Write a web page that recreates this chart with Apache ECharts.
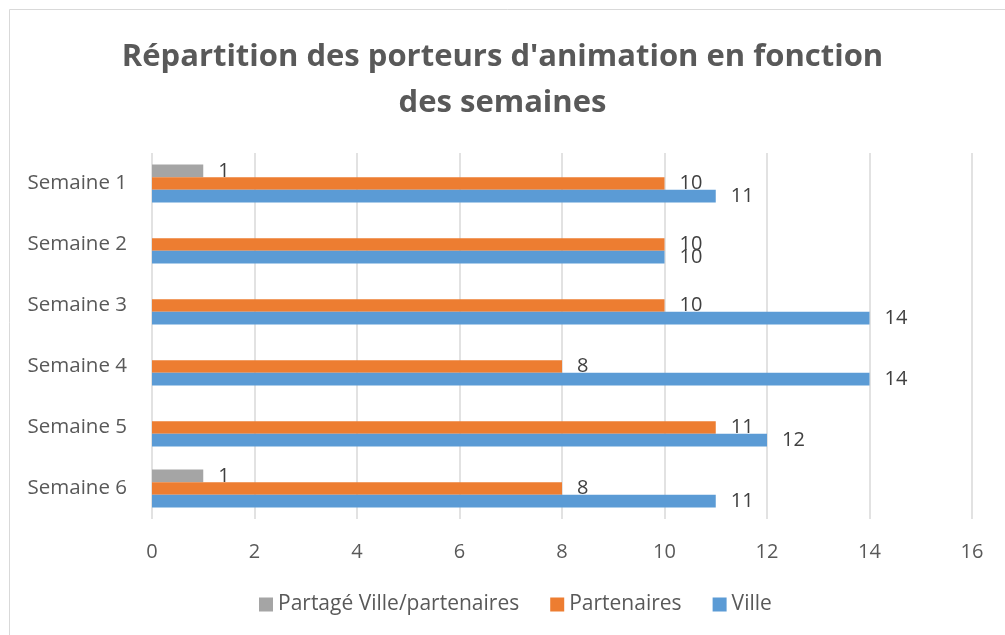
<!DOCTYPE html>
<html>
<head>
<meta charset="utf-8">
<script src="https://cdn.jsdelivr.net/npm/echarts@6/dist/echarts.min.js"></script>
<style>
  html, body { margin: 0; padding: 0; background: #fff; }
  #chart { width: 1005px; height: 635px; }
</style>
</head>
<body>
<div id="chart"></div>
<script>
const semaines = ['Semaine 1', 'Semaine 2', 'Semaine 3', 'Semaine 4', 'Semaine 5', 'Semaine 6'];
const partage = [1, null, null, null, null, 1];
const partenaires = [10, 10, 10, 8, 11, 8];
const ville = [11, 10, 14, 14, 12, 11];

const txt = '#595959';
const font = '"Open Sans", "Noto Sans", sans-serif';

const chart = echarts.init(document.getElementById('chart'));

const barLabel = {
    show: true,
    position: 'right',
    distance: 15,
    color: '#404040',
    fontSize: 20,
    fontFamily: font
};

chart.setOption({
    backgroundColor: '#fff',
    animation: false,
    textStyle: { fontFamily: font },
    graphic: [{
        type: 'rect',
        shape: { x: 9.5, y: 9.5, width: 1100, height: 700 },
        style: { fill: 'none', stroke: '#d9d9d9', lineWidth: 1 },
        silent: true
    }],
    title: {
        text: "Répartition des porteurs d'animation en fonction\ndes semaines",
        left: 'center',
        top: 29,
        textStyle: {
            color: txt,
            fontSize: 31,
            fontWeight: 'bold',
            fontFamily: font,
            lineHeight: 46
        }
    },
    legend: {
        bottom: 15,
        left: 254,
        itemWidth: 14,
        itemHeight: 14,
        itemGap: 31,
        icon: 'rect',
        textStyle: { color: txt, fontSize: 21, fontFamily: font },
        data: ['Partagé Ville/partenaires', 'Partenaires', 'Ville']
    },
    grid: { left: 152, right: 33, top: 153, bottom: 116 },
    xAxis: {
        type: 'value',
        min: 0,
        max: 16,
        interval: 2,
        axisLine: { show: false },
        axisTick: { show: false },
        axisLabel: { color: txt, fontSize: 20, margin: 23, fontFamily: font },
        splitLine: { lineStyle: { color: '#d9d9d9', width: 1.5 } }
    },
    yAxis: {
        type: 'category',
        inverse: true,
        data: semaines,
        axisLine: { show: false },
        axisTick: { show: false },
        axisLabel: { color: txt, fontSize: 20.5, margin: 25, fontFamily: font }
    },
    series: [
        {
            name: 'Partagé Ville/partenaires',
            type: 'bar',
            data: partage,
            itemStyle: { color: '#A5A5A5' },
            barGap: '0%',
            barCategoryGap: '38%',
            label: barLabel
        },
        {
            name: 'Partenaires',
            type: 'bar',
            data: partenaires,
            itemStyle: { color: '#ED7D31' },
            barGap: '0%',
            barCategoryGap: '38%',
            label: barLabel
        },
        {
            name: 'Ville',
            type: 'bar',
            data: ville,
            itemStyle: { color: '#5B9BD5' },
            barGap: '0%',
            barCategoryGap: '38%',
            label: barLabel
        }
    ]
});
window.addEventListener('resize', () => chart.resize());
</script>
</body>
</html>
